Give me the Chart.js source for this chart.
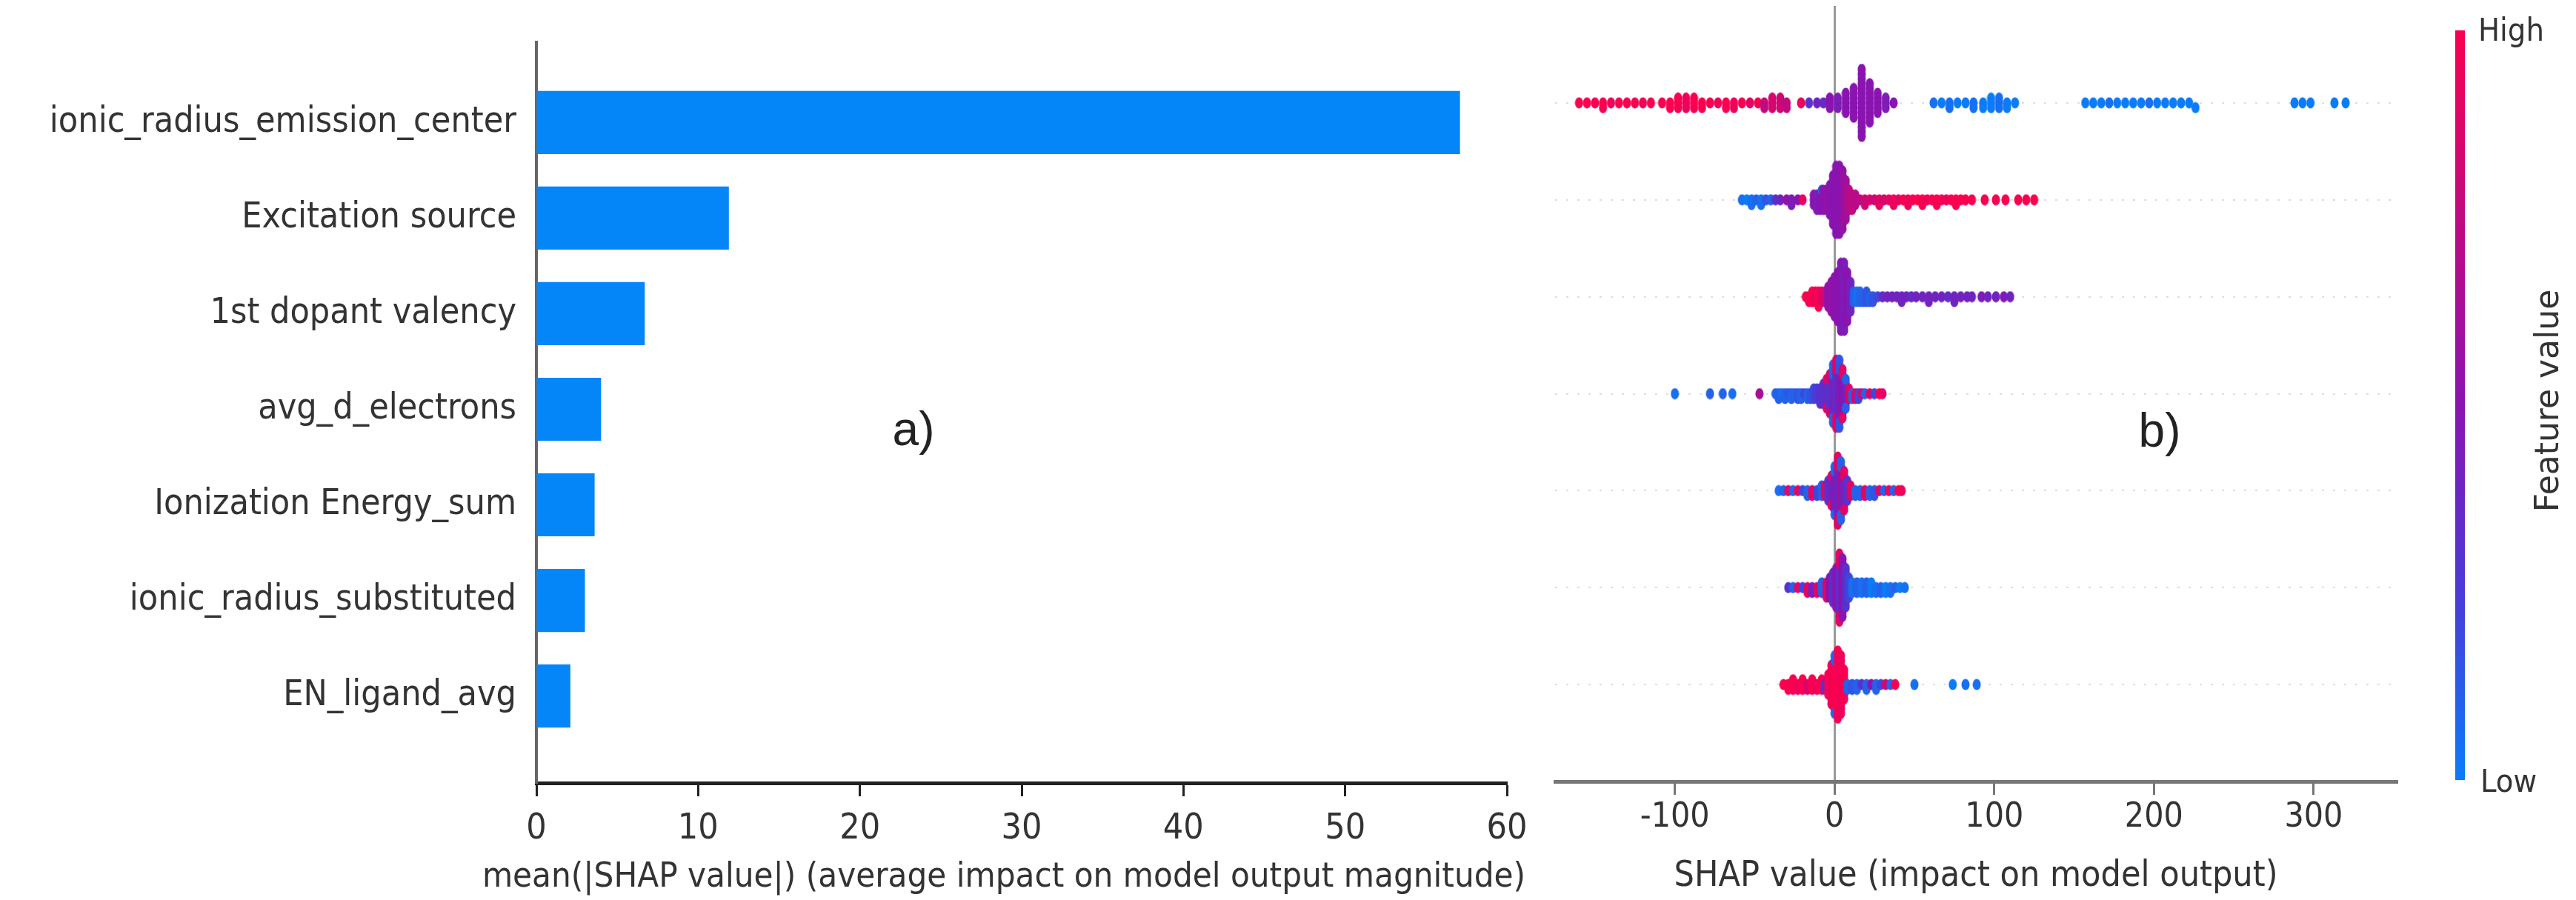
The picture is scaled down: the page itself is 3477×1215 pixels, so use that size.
<!DOCTYPE html>
<html>
<head>
<meta charset="utf-8">
<script src="https://cdn.jsdelivr.net/npm/chart.js@4.4.0/dist/chart.umd.min.js"></script>
<style>
  html, body { margin: 0; padding: 0; background: #fff; }
  #wrap { position: relative; width: 3477px; height: 1215px; overflow: hidden; background: #fff; }
  #barBox { position: absolute; left: 0; top: 0; width: 2150px; height: 1215px; }
  #swarmBox { position: absolute; left: 1850px; top: 0; width: 1627px; height: 1215px; }
</style>
</head>
<body>
<div id="wrap">
  <div id="barBox"><canvas id="barChart" width="2150" height="1215"></canvas></div>
  <div id="swarmBox"><canvas id="swarmChart" width="1627" height="1215"></canvas></div>
</div>
<script>
// --- data ---
const features = ['ionic_radius_emission_center', 'Excitation source', '1st dopant valency',
  'avg_d_electrons', 'Ionization Energy_sum', 'ionic_radius_substituted', 'EN_ligand_avg'];
const meanAbsShap = [57.1, 11.9, 6.7, 4.0, 3.6, 3.0, 2.1];
const barTicks = [0, 10, 20, 30, 40, 50, 60];
const shapTicks = [-100, 0, 100, 200, 300];

// beeswarm rows: [shap value, number of dots, feature value 0..1]
const swarmIonicEmission = [
  [-160,1,1],[-155,1,1],[-150,1,1],[-145,2,1],[-140,1,0.95],[-135,1,1],[-130,1,1],[-125,1,1],[-120,1,0.95],[-115,1,1],
  [-108,1,1],[-103,2,1],[-98,3,1],[-93,3,0.95],[-88,3,1],[-83,2,1],
  [-78,1,1],[-73,1,0.95],[-68,2,1],[-63,2,0.95],[-58,1,1],[-53,1,0.9],[-48,1,1],
  [-44,2,0.75],[-39,3,0.85],[-34,3,0.8],[-30,2,0.75],[-21,1,0.95],
  [-16,1,0.3],[-11,1,0.4],[-7,1,0.35],
  [-3,3,0.5],[2,3,0.45],[7,5,0.5],[12,7,0.5],[17,15,0.5],[22,9,0.5],[27,5,0.5],[32,3,0.45],[37,1,0.5],
  [62,1,0.05],[67,1,0],[72,2,0.05],[77,1,0],[82,1,0],[87,2,0.05],[93,2,0],[98,3,0],[103,3,0.05],[108,2,0],[113,1,0],
  [157,1,0],[162,1,0],[167,1,0],[172,1,0.05],[177,1,0],[182,1,0],[187,1,0],[192,1,0],[197,1,0.05],[202,1,0],
  [207,1,0],[212,1,0],[217,1,0],[222,1,0],[226,1,0],
  [288,1,0],[293,1,0],[298,1,0],[313,1,0],[320,1,0]
];
const swarmExcitation = [
  [-58,1,0.05],[-55,1,0],[-52,2,0.05],[-49,1,0.1],[-46,2,0.05],[-43,1,0.15],[-40,1,0.1],
  [-37,1,0.3],[-34,1,0.4],[-30,1,0.55],[-27,2,0.45],[-23,1,0.5],[-20,1,0.9],
  [-13,3,0.5],[-11,4,0.45],[-9,4,0.5],[-8,1,0.1],[-7,5,0.5],[-5,5,0.55],[-3,7,0.5],[-1,11,0.5],
  [1,15,0.5],[3,15,0.5],[5,13,0.55],[7,9,0.6],[9,5,0.7],[11,4,0.75],[13,3,0.7],
  [16,1,0.75],[19,2,0.8],[22,1,0.85],[25,1,0.8],[28,2,0.9],[31,1,0.85],[34,1,0.9],[37,2,0.95],[40,1,0.9],
  [43,1,1],[46,2,0.95],[49,1,1],[52,1,1],[55,2,1],[58,1,0.95],[61,1,1],[64,2,1],[67,1,1],[70,1,0.95],
  [73,1,1],[76,2,1],[79,1,1],[82,1,1],[86,1,1],
  [94,1,1],[101,1,1],[107,1,1],[115,1,1],[120,1,1],[125,1,1]
];
const swarmDopantValency = [
  [-18,1,1],[-16,2,1],[-14,3,1],[-12,3,0.95],[-10,4,1],[-8,3,0.9],[-6,3,0.8],
  [-4,5,0.5],[-2,7,0.55],[0,9,0.5],[2,11,0.5],[4,15,0.5],[6,15,0.45],[8,11,0.5],[10,7,0.4],
  [12,3,0.1],[14,3,0.05],[16,3,0.1],[18,2,0.1],[20,3,0.15],[22,2,0.1],[24,2,0.15],[27,1,0.2],
  [30,1,0.35],[33,1,0.4],[36,1,0.4],[39,1,0.4],[42,2,0.4],[45,1,0.4],[48,1,0.35],[51,1,0.4],[55,1,0.4],
  [59,2,0.4],[63,1,0.4],[67,1,0.4],[71,1,0.35],[75,2,0.4],[79,1,0.4],[83,1,0.4],[86,1,0.4],
  [92,1,0.45],[96,1,0.4],[101,1,0.4],[106,1,0.45],[110,1,0.4]
];
const swarmAvgD = [
  [-100,1,0.05],[-78,1,0.1],[-70,1,0.1],[-64,1,0.05],[-47,1,0.65],
  [-37,1,0.1],[-35,2,0.1],[-33,1,0.05],[-31,2,0.1],[-29,1,0.15],[-27,2,0.1],[-25,1,0.1],[-23,2,0.15],
  [-21,2,0.1],[-19,1,0.2],[-17,2,0.1],[-15,2,0.15],[-13,3,0.2],[-11,3,0.25],[-9,4,0.3],[-7,5,0.3],
  [-5,5,0.35],[-5,2,0.9],[-3,6,0.3],[-3,3,0.85],[-1,8,0.4],[-1,5,0.1],[1,9,0.35],[1,6,0.9],
  [3,10,0.45],[3,5,0.15],[5,8,0.5],[5,3,0.9],[7,5,0.4],[7,2,0.1],
  [9,3,0.9],[11,2,0.1],[13,2,0.9],[15,2,0.2],[17,1,0.85],[19,1,0.1],[22,1,0.9],[25,1,0.2],[28,1,1],[30,1,0.9]
];
const swarmIonization = [
  [-35,1,0.05],[-32,1,0.1],[-29,1,0.9],[-26,1,0.1],[-23,1,0.95],[-20,1,0.2],[-17,2,0.1],[-14,2,0.9],
  [-11,2,0.2],[-8,3,0.1],[-6,3,0.9],[-4,5,0.3],
  [-2,5,0.4],[-2,2,0.9],[0,8,0.45],[0,3,0.1],[2,10,0.4],[2,5,0.9],[4,9,0.6],[4,4,0.1],[6,6,0.4],[6,3,0.9],[8,5,0.3],
  [10,3,0.9],[13,2,0.1],[16,2,0.1],[19,2,0.9],[22,2,0.1],[25,2,0.15],[28,1,0.9],[31,1,0.1],[34,1,0.95],
  [37,1,0.1],[40,1,1],[42,1,0.95]
];
const swarmIonicSubst = [
  [-29,1,0.3],[-26,1,0.1],[-23,1,0.9],[-20,1,0.2],[-17,2,0.9],[-14,2,0.4],[-11,2,0.9],[-8,3,0.1],[-5,4,0.9],
  [-3,5,0.5],[-1,7,0.3],[1,9,0.5],[3,10,0.35],[3,5,0.9],[5,13,0.5],[7,9,0.3],[9,5,0.2],
  [11,3,0.05],[14,3,0.1],[17,3,0.05],[20,3,0.1],[23,3,0],[26,2,0.05],[29,2,0.1],[32,2,0],[35,2,0.05],
  [38,1,0.1],[41,1,0],[44,1,0.05]
];
const swarmENLigand = [
  [-32,1,1],[-29,2,1],[-26,3,1],[-23,2,0.95],[-20,3,1],[-17,2,0.85],[-14,3,1],[-11,2,0.95],[-8,3,1],[-6,2,0.3],
  [-4,5,1],[-2,9,0.95],[0,10,1],[0,3,0.1],[2,15,1],[4,13,0.95],[6,7,1],
  [8,2,0.1],[11,2,0.15],[14,2,0.1],[17,1,0.3],[20,2,0.1],[23,1,0.5],[26,2,0.1],[29,1,0.2],[32,1,0.85],
  [35,1,0.1],[38,1,1],
  [50,1,0.05],[74,1,0],[82,1,0.05],[89,1,0.05]
];
const swarmRows = [swarmIonicEmission, swarmExcitation, swarmDopantValency, swarmAvgD,
  swarmIonization, swarmIonicSubst, swarmENLigand];

// --- look ---
const FONT = "'DejaVu Sans Condensed', 'DejaVu Sans', sans-serif";
const TEXT = '#333333';
const cmapStops = [[0, [10, 124, 248]], [0.25, [75, 58, 214]], [0.5, [138, 20, 176]], [0.75, [192, 10, 128]], [1, [250, 0, 80]]];

function featureColor(f) {
  for (let i = 1; i < cmapStops.length; i++) {
    const [p1, c1] = cmapStops[i];
    const [p0, c0] = cmapStops[i - 1];
    if (f <= p1) {
      const t = (f - p0) / (p1 - p0);
      const c = c0.map((v, k) => Math.round(v + (c1[k] - v) * t));
      return `rgb(${c[0]},${c[1]},${c[2]})`;
    }
  }
  return 'rgb(250,0,80)';
}

// small elliptic dots, one canvas per colour step
const dotCache = {};
function dotFor(f) {
  const key = Math.round(f * 20);
  if (!dotCache[key]) {
    const c = document.createElement('canvas');
    c.width = 12; c.height = 16;
    const g = c.getContext('2d');
    g.fillStyle = featureColor(key / 20);
    g.beginPath();
    g.ellipse(6, 8, 5.5, 7.5, 0, 0, Math.PI * 2);
    g.fill();
    dotCache[key] = c;
  }
  return dotCache[key];
}

// same stacking as shap's beeswarm: 100 bins, layers alternate up/down
function beeswarm(row, clusters) {
  const pts = [];
  clusters.forEach(([x, n, f]) => { for (let k = 0; k < n; k++) pts.push({ x, f }); });
  const xs = pts.map(p => p.x);
  const lo = Math.min(...xs), hi = Math.max(...xs);
  pts.forEach(p => { p.q = Math.round(100 * (p.x - lo) / (hi - lo + 1e-8)); });
  const order = pts.map((p, i) => i).sort((a, b) => pts[a].q - pts[b].q || a - b);
  const ys = new Array(pts.length).fill(0);
  let layer = 0, last = -1;
  order.forEach(i => {
    if (pts[i].q !== last) layer = 0;
    ys[i] = Math.ceil(layer / 2) * ((layer % 2) * 2 - 1);
    layer++;
    last = pts[i].q;
  });
  const scale = 0.9 * (0.44 / Math.max(...ys.map(v => v + 1)));
  return pts.map((p, i) => ({ x: p.x, y: row + ys[i] * scale, f: p.f }));
}

const swarmPoints = [];
swarmRows.forEach((r, i) => swarmPoints.push(...beeswarm(i, r)));

// --- a) bar chart ---
// the axis title is wider than the axis in the original, so it is drawn here
const barTexts = {
  id: 'barTexts',
  afterDraw(chart) {
    const ctx = chart.ctx;
    ctx.save();
    ctx.fillStyle = TEXT;
    ctx.font = `47px ${FONT}`;
    ctx.textAlign = 'center';
    ctx.textBaseline = 'middle';
    ctx.fillText('mean(|SHAP value|) (average impact on model output magnitude)', 1355, 1185);

    ctx.font = "64px 'Liberation Sans', Arial, sans-serif";
    ctx.fillStyle = '#222';
    ctx.fillText('a)', 1233, 583);
    ctx.restore();
  }
};

new Chart(document.getElementById('barChart'), {
  type: 'bar',
  data: {
    datasets: [{
      data: meanAbsShap.map((v, i) => ({ x: v, y: i })),
      backgroundColor: '#0586f8',
      borderWidth: 0,
      barPercentage: 0.66,
      categoryPercentage: 1
    }]
  },
  options: {
    indexAxis: 'y',
    responsive: false,
    animation: false,
    events: [],
    layout: { padding: { top: 57, right: 116, left: 0, bottom: 0 } },
    plugins: { legend: { display: false }, tooltip: { enabled: false } },
    scales: {
      x: {
        type: 'linear', min: 0, max: 60,
        afterBuildTicks: a => { a.ticks = barTicks.map(v => ({ value: v })); },
        grid: { drawOnChartArea: false, drawTicks: true, tickLength: 18, tickWidth: 3, tickColor: '#222' },
        border: { display: true, color: '#222', width: 5 },
        ticks: { color: TEXT, font: { family: FONT, size: 48 }, padding: 16, maxRotation: 0 },
        title: { display: false },
        afterFit: s => { s.height = 158; }
      },
      y: {
        type: 'linear', reverse: true, min: -0.84, max: 6.91, offset: false,
        afterBuildTicks: a => { a.ticks = features.map((f, i) => ({ value: i })); },
        grid: { display: false, drawTicks: false, offset: false },
        border: { display: true, color: '#666', width: 4 },
        ticks: { color: TEXT, font: { family: FONT, size: 48 }, padding: 27, callback: v => features[v] },
        afterFit: s => { s.width = 724; }
      }
    }
  },
  plugins: [barTexts]
});

// --- b) beeswarm ---
const OX = 1850; // left of the second canvas in page pixels
const colorbarPlugin = {
  id: 'colorbar',
  afterDraw(chart) {
    const ctx = chart.ctx;
    const x = 3314 - OX, top = 41, bottom = 1053, w = 13;
    ctx.save();
    const grad = ctx.createLinearGradient(0, bottom, 0, top);
    cmapStops.forEach(([p, c]) => grad.addColorStop(p, `rgb(${c[0]},${c[1]},${c[2]})`));
    ctx.fillStyle = grad;
    ctx.fillRect(x, top, w, bottom - top);

    ctx.fillStyle = TEXT;
    ctx.font = `43px ${FONT}`;
    ctx.textAlign = 'left';
    ctx.textBaseline = 'middle';
    ctx.fillText('High', 3345 - OX, 44);
    ctx.fillText('Low', 3348 - OX, 1058);

    ctx.save();
    ctx.translate(3442 - OX, 541);
    ctx.rotate(-Math.PI / 2);
    ctx.font = "44px 'DejaVu Sans', sans-serif";
    ctx.textAlign = 'center';
    ctx.fillText('Feature value', 0, 0);
    ctx.restore();

    ctx.font = "64px 'Liberation Sans', Arial, sans-serif";
    ctx.fillStyle = '#222';
    ctx.textAlign = 'center';
    ctx.fillText('b)', 2915 - OX, 585);
    ctx.restore();
  }
};

new Chart(document.getElementById('swarmChart'), {
  type: 'scatter',
  data: {
    datasets: [{
      data: swarmPoints,
      pointStyle: ctx => dotFor(ctx.raw ? ctx.raw.f : 0.5),
      pointRadius: 7,
      showLine: false
    }]
  },
  options: {
    responsive: false,
    animation: false,
    events: [],
    layout: { padding: { top: 2, right: 242, left: 0, bottom: 0 } },
    plugins: { legend: { display: false }, tooltip: { enabled: false } },
    scales: {
      x: {
        type: 'linear', min: -175, max: 352,
        afterBuildTicks: a => { a.ticks = shapTicks.map(v => ({ value: v })); },
        grid: {
          drawOnChartArea: true, drawTicks: true, tickLength: 18, tickWidth: 3, tickColor: '#777',
          lineWidth: 3,
          color: c => (c.tick && c.tick.value === 0 ? '#999999' : 'rgba(0,0,0,0)')
        },
        border: { display: true, color: '#777', width: 5 },
        ticks: { color: TEXT, font: { family: FONT, size: 46 }, padding: 3, maxRotation: 0 },
        title: {
          display: true, text: 'SHAP value (impact on model output)',
          color: TEXT, font: { family: FONT, size: 48, lineHeight: 1 }, padding: { top: 0, bottom: 7 }
        },
        afterFit: s => { s.height = 160; }
      },
      y: {
        type: 'linear', reverse: true, min: -1, max: 7,
        afterBuildTicks: a => { a.ticks = features.map((f, i) => ({ value: i })); },
        grid: { color: '#dedede', lineWidth: 2, drawTicks: false },
        border: { display: false, dash: [3, 12] },
        ticks: { display: false },
        afterFit: s => { s.width = 249; }
      }
    }
  },
  plugins: [colorbarPlugin]
});
</script>
</body>
</html>
